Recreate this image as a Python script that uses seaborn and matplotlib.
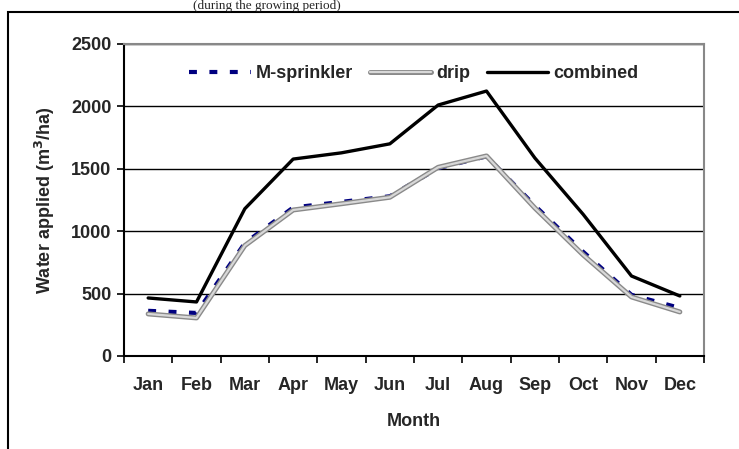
"""monthly water applied by irrigation system"""
import matplotlib.pyplot as plt
import matplotlib.patheffects as pe
import pandas as pd
import seaborn as sns
from matplotlib.patches import Rectangle

months = ["Jan", "Feb", "Mar", "Apr", "May", "Jun",
          "Jul", "Aug", "Sep", "Oct", "Nov", "Dec"]
sprinkler = [362, 345, 905, 1190, 1235, 1280, 1505, 1600, 1205, 835, 490, 385]
drip = [337, 305, 885, 1170, 1220, 1272, 1512, 1603, 1186, 810, 473, 353]
combined = [465, 433, 1180, 1578, 1628, 1700, 2011, 2123, 1587, 1135, 641, 481]
yticks = [0, 500, 1000, 1500, 2000, 2500]

df = pd.DataFrame({"month": months, "M-sprinkler": sprinkler,
                   "drip": drip, "combined": combined})

sns.set_theme(style="white")
plt.rcParams["font.family"] = ["Liberation Sans", "DejaVu Sans"]
plt.rcParams["font.weight"] = "bold"

fig = plt.figure(figsize=(7.39, 4.49), dpi=100)
ax = fig.add_axes([124 / 739, 1 - 356 / 449, 580 / 739, 312 / 449])

sns.lineplot(data=df, x="month", y="M-sprinkler", ax=ax, color="#000080",
             linewidth=3, label="M-sprinkler", sort=False)
ax.lines[-1].set_dashes((1.9, 3.0))
sns.lineplot(data=df, x="month", y="drip", ax=ax, color="#d8d8d8",
             linewidth=1.6, label="drip", sort=False)
ax.lines[-1].set_path_effects([pe.Stroke(linewidth=3.6, foreground="#8a8a8a"),
                               pe.Normal()])
sns.lineplot(data=df, x="month", y="combined", ax=ax, color="black",
             linewidth=2.4, label="combined", sort=False)

ax.set_xlim(-0.5, 11.5)
ax.set_ylim(0, 2500)
ax.set_yticks(yticks)
ax.set_xticks(range(12))
ax.set_xticklabels(months)
ax.set_xticks([i - 0.5 for i in range(13)], minor=True)
ax.grid(axis="y", color="black", linewidth=1)
ax.set_axisbelow(True)
ax.tick_params(axis="x", which="major", length=0, pad=15, labelsize=13)
ax.tick_params(axis="x", which="minor", length=5, width=1.2, color="black",
               bottom=True)
ax.tick_params(axis="y", length=5, width=1.2, color="black", left=True,
               pad=4, labelsize=13)
for side in ["left", "bottom"]:
    ax.spines[side].set_color("black")
    ax.spines[side].set_linewidth(1.5)
for side in ["top", "right"]:
    ax.spines[side].set_color("#888888")
    ax.spines[side].set_linewidth(1.5)

ax.set_xlabel("Month", fontsize=13, fontweight="bold", labelpad=14)
ax.set_ylabel("Water applied (m$^\\mathbf{3}$/ha)", fontsize=13,
              fontweight="bold")
ax.yaxis.set_label_coords(-0.115, 0.5)

ax.legend(loc="upper center", bbox_to_anchor=(0.5, 0.985), ncol=3,
          frameon=False, handlelength=3.4, handletextpad=0.3,
          columnspacing=0.9, prop={"weight": "bold", "size": 13})

# outer frame, cut off at the right and bottom like the source
fig.add_artist(Rectangle((8 / 739, -0.2), 1.2, 1.2 - 12 / 449,
                         transform=fig.transFigure, fill=False,
                         edgecolor="black", linewidth=1.5))
# caption of the figure above, squeezed into the strip over the frame
fig.text(193 / 739, 1 - 9 / 449, "(during the growing period)",
         ha="left", va="baseline", fontsize=9.5, family="Liberation Serif",
         fontweight="normal")

fig.savefig("out.png", dpi=100)
